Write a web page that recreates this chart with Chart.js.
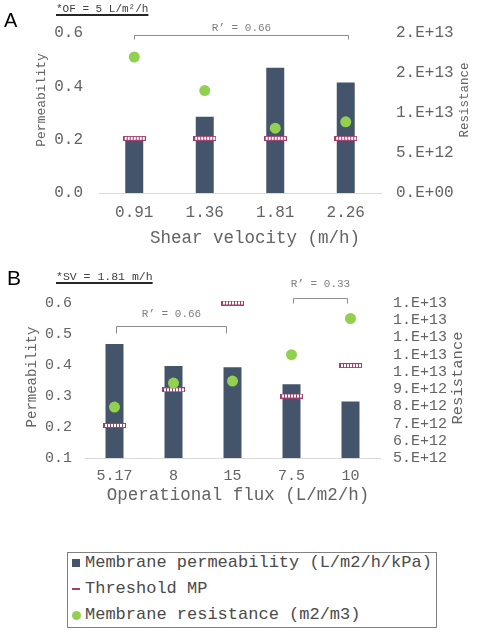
<!DOCTYPE html>
<html>
<head>
<meta charset="utf-8">
<script src="https://cdn.jsdelivr.net/npm/chart.js@4.4.1/dist/chart.umd.min.js"></script>
<style>
  html, body { margin: 0; padding: 0; background: #fff; }
  #wrap { position: relative; width: 484px; height: 636px; overflow: hidden; }
  #wrap canvas { position: absolute; left: 0; }
  #chartA { top: 0; }
  #chartB { top: 250px; }
  .legend {
    position: absolute; left: 67px; top: 552px; width: 368px; height: 74px;
    border: 1px solid #808080;
    font: 17px "Liberation Mono", "DejaVu Sans Mono", monospace; color: #4a4a4a;
  }
  .legend .row { position: absolute; left: 17px; height: 26px; line-height: 26px; white-space: nowrap; }
  .legend .mk { position: absolute; left: 4px; }
</style>
</head>
<body>
<div id="wrap">
  <canvas id="chartA" width="484" height="250"></canvas>
  <canvas id="chartB" width="484" height="270"></canvas>
  <div class="legend">
    <div class="mk" style="top:6px;width:8px;height:8px;background:#44546A"></div>
    <div class="row" style="top:-3px">Membrane permeability (L/m2/h/kPa)</div>
    <div class="mk" style="top:35px;width:8px;height:2px;background:#a0406e"></div>
    <div class="row" style="top:23px">Threshold MP</div>
    <div class="mk" style="top:58px;width:9px;height:9px;border-radius:50%;background:#92D050"></div>
    <div class="row" style="top:49px">Membrane resistance (m2/m3)</div>
  </div>
</div>
<script>
// ---- data: panel A (OF = 5 L/m2/h) ----
const shearLabels = ['0.91', '1.36', '1.81', '2.26'];
const permA       = [0.205, 0.286, 0.470, 0.414];
const thresholdA  = [0.205, 0.205, 0.205, 0.205];
const resistA     = [1.70e13, 1.28e13, 8.1e12, 8.9e12];
const permRangeA  = [0, 0.6, 0.2];        // min, max, step
const resistRangeA = [0, 2e13, 5e12];

// ---- data: panel B (SV = 1.81 m/h) ----
const fluxLabels  = ['5.17', '8', '15', '7.5', '10'];
const permB       = [0.468, 0.397, 0.393, 0.338, 0.282];
const thresholdB  = [0.205, 0.320, 0.600, 0.300, 0.398];
const resistB     = [7.96e12, 9.35e12, 9.47e12, 1.10e13, 1.31e13];
const permRangeB  = [0.1, 0.6, 0.1];
const resistRangeB = [5e12, 1.4e13, 1e12];

const MONO = '"Liberation Mono", "DejaVu Sans Mono", monospace';
const SANS = '"Liberation Sans", Arial, sans-serif';
const TXT = '#636363';
const BAR = '#44546A';
const GREEN = '#92D050';
const MAROON = '#a0406e';

// Excel style "0.E+00"
const sci = v => {
    if (v === 0) return '0.E+00';
    const [m, e] = v.toExponential(0).split('e');
    return m + '.E' + (+e < 0 ? '-' : '+') + String(Math.abs(+e)).padStart(2, '0');
};

// threshold marker: small striped bar
function thresholdMark(w, h) {
    const c = document.createElement('canvas');
    c.width = w; c.height = h;
    const g = c.getContext('2d');
    g.fillStyle = MAROON;
    g.fillRect(0, 0, w, h);
    g.fillStyle = '#ffffff';
    for (let x = 2; x < w - 2; x += 3) g.fillRect(x, 1, 2, h - 2);
    return c;
}
const markImg = thresholdMark(23, 5);

// ---- texts + brackets drawn on top ----
const decorPlugin = {
    id: 'decor',
    afterDraw(chart, args, opts) {
        const ctx = chart.ctx;
        const xs = chart.scales.x, ys = chart.scales.y;
        ctx.save();
        (opts.texts || []).forEach(t => {
            ctx.save();
            ctx.translate(t.x, t.y);
            if (t.rot) ctx.rotate(t.rot);
            ctx.font = t.font;
            ctx.fillStyle = t.color || TXT;
            ctx.textAlign = t.align || 'center';
            ctx.textBaseline = t.baseline || 'middle';
            ctx.fillText(t.text, 0, 0);
            if (t.underline) {
                const w = ctx.measureText(t.text).width;
                ctx.fillStyle = '#262626';
                ctx.fillRect(0, t.underline, w, 2);
            }
            ctx.restore();
        });
        const band = (xs.right - xs.left) / xs.ticks.length;
        (opts.brackets || []).forEach(b => {
            const x0 = Math.round(xs.left + (b.from + 0.5) * band) + 0.5;
            const x1 = Math.round(xs.left + (b.to + 0.5) * band) + 0.5;
            const yy = Math.round(ys.getPixelForValue(b.at)) + 0.5;
            ctx.strokeStyle = '#8c8c8c';
            ctx.lineWidth = 1;
            ctx.beginPath();
            ctx.moveTo(x0, yy + b.drop);
            ctx.lineTo(x0, yy);
            ctx.lineTo(x1, yy);
            ctx.lineTo(x1, yy + b.drop);
            ctx.stroke();
            ctx.font = '11px ' + MONO;
            ctx.fillStyle = '#7f7f7f';
            ctx.textAlign = 'center';
            ctx.textBaseline = 'middle';
            ctx.fillText(b.label, (x0 + x1) / 2, yy - b.gap);
        });
        ctx.restore();
    }
};

function buildChart(el, d) {
    const noGrid = { display: false, drawTicks: false };
    return new Chart(document.getElementById(el).getContext('2d'), {
        type: 'bar',
        data: {
            labels: d.labels,
            datasets: [{
                type: 'line',
                label: 'Membrane resistance (m2/m3)',
                data: d.resist,
                yAxisID: 'y2',
                showLine: false,
                pointRadius: 5.5,
                pointBackgroundColor: GREEN,
                pointBorderWidth: 0,
                clip: false,
                order: 1,
            }, {
                type: 'line',
                label: 'Threshold MP',
                data: d.threshold,
                yAxisID: 'y',
                showLine: false,
                pointStyle: markImg,
                clip: false,
                order: 2,
            }, {
                label: 'Membrane permeability (L/m2/h/kPa)',
                data: d.perm,
                yAxisID: 'y',
                backgroundColor: BAR,
                categoryPercentage: 1,
                barPercentage: d.barPct,
                order: 3,
            }]
        },
        options: {
            responsive: false,
            animation: false,
            layout: { padding: { top: d.top, left: 0, right: 0, bottom: 0 } },
            plugins: {
                legend: { display: false },
                tooltip: { enabled: false },
                decor: d.decor,
            },
            scales: {
                x: {
                    grid: noGrid,
                    border: { display: true, color: '#d9d9d9' },
                    ticks: { font: { family: MONO, size: d.tickSize }, color: TXT, padding: d.xPad, maxRotation: 0 },
                    afterFit: s => { s.height = d.xHeight; },
                },
                y: {
                    position: 'left',
                    min: d.permRange[0], max: d.permRange[1],
                    grid: noGrid,
                    border: { display: false },
                    ticks: {
                        stepSize: d.permRange[2], autoSkip: false,
                        font: { family: MONO, size: d.tickSize }, color: TXT, padding: d.yPad,
                        callback: v => v.toFixed(1),
                    },
                    afterFit: s => { s.width = d.leftW; },
                },
                y2: {
                    position: 'right',
                    min: d.resistRange[0], max: d.resistRange[1],
                    grid: noGrid,
                    border: { display: false },
                    ticks: {
                        stepSize: d.resistRange[2], autoSkip: false,
                        font: { family: MONO, size: d.tickSize }, color: TXT, padding: d.y2Pad,
                        callback: sci,
                    },
                    afterFit: s => { s.width = d.rightW; },
                }
            }
        },
        plugins: [decorPlugin]
    });
}

const UP = -Math.PI / 2;

// ====================================================
// PANEL A
// ====================================================
buildChart('chartA', {
    labels: shearLabels, perm: permA, threshold: thresholdA, resist: resistA,
    permRange: permRangeA, resistRange: resistRangeA,
    barPct: 0.255, top: 33, xHeight: 57, leftW: 99, rightW: 103,
    tickSize: 16, xPad: 10, yPad: 16, y2Pad: 15,
    decor: {
        texts: [
            { text: 'A', x: 4, y: 27, font: '20px ' + SANS, color: '#000', align: 'left', baseline: 'alphabetic' },
            { text: '*OF = 5 L/m²/h', x: 56, y: 9, font: '11px ' + MONO, color: '#404040', align: 'left', underline: 5 },
            { text: 'Permeability', x: 42, y: 100, rot: UP, font: '13px ' + MONO },
            { text: 'Resistance', x: 465, y: 100, rot: UP, font: '12.5px ' + MONO },
            { text: 'Shear velocity (m/h)', x: 255, y: 238, font: '17.5px ' + MONO },
        ],
        brackets: [
            { from: 0, to: 3.03, at: 0.5925, drop: 4, gap: 7, label: 'R’ = 0.66' },
        ]
    }
});

// ====================================================
// PANEL B
// ====================================================
buildChart('chartB', {
    labels: fluxLabels, perm: permB, threshold: thresholdB, resist: resistB,
    permRange: permRangeB, resistRange: resistRangeB,
    barPct: 0.305, top: 53, xHeight: 62, leftW: 85, rightW: 104,
    tickSize: 15, xPad: 9, yPad: 13, y2Pad: 13,
    decor: {
        texts: [
            { text: 'B', x: 7, y: 35, font: '21px ' + SANS, color: '#000', align: 'left', baseline: 'alphabetic' },
            { text: '*SV = 1.81 m/h', x: 56, y: 27, font: '11.5px ' + MONO, color: '#404040', align: 'left', underline: 5 },
            { text: 'Permeability', x: 32, y: 127, rot: UP, font: '14px ' + MONO },
            { text: 'Resistance', x: 458, y: 128, rot: UP, font: '15.5px ' + MONO },
            { text: 'Operational flux (L/m2/h)', x: 238, y: 245, font: '17.5px ' + MONO },
        ],
        brackets: [
            { from: 0.03, to: 1.89, at: 0.526, drop: 7, gap: 12, label: 'R’ = 0.66' },
            { from: 3.03, to: 3.94, at: 0.616, drop: 5, gap: 14, label: 'R’ = 0.33' },
        ]
    }
});
</script>
</body>
</html>
